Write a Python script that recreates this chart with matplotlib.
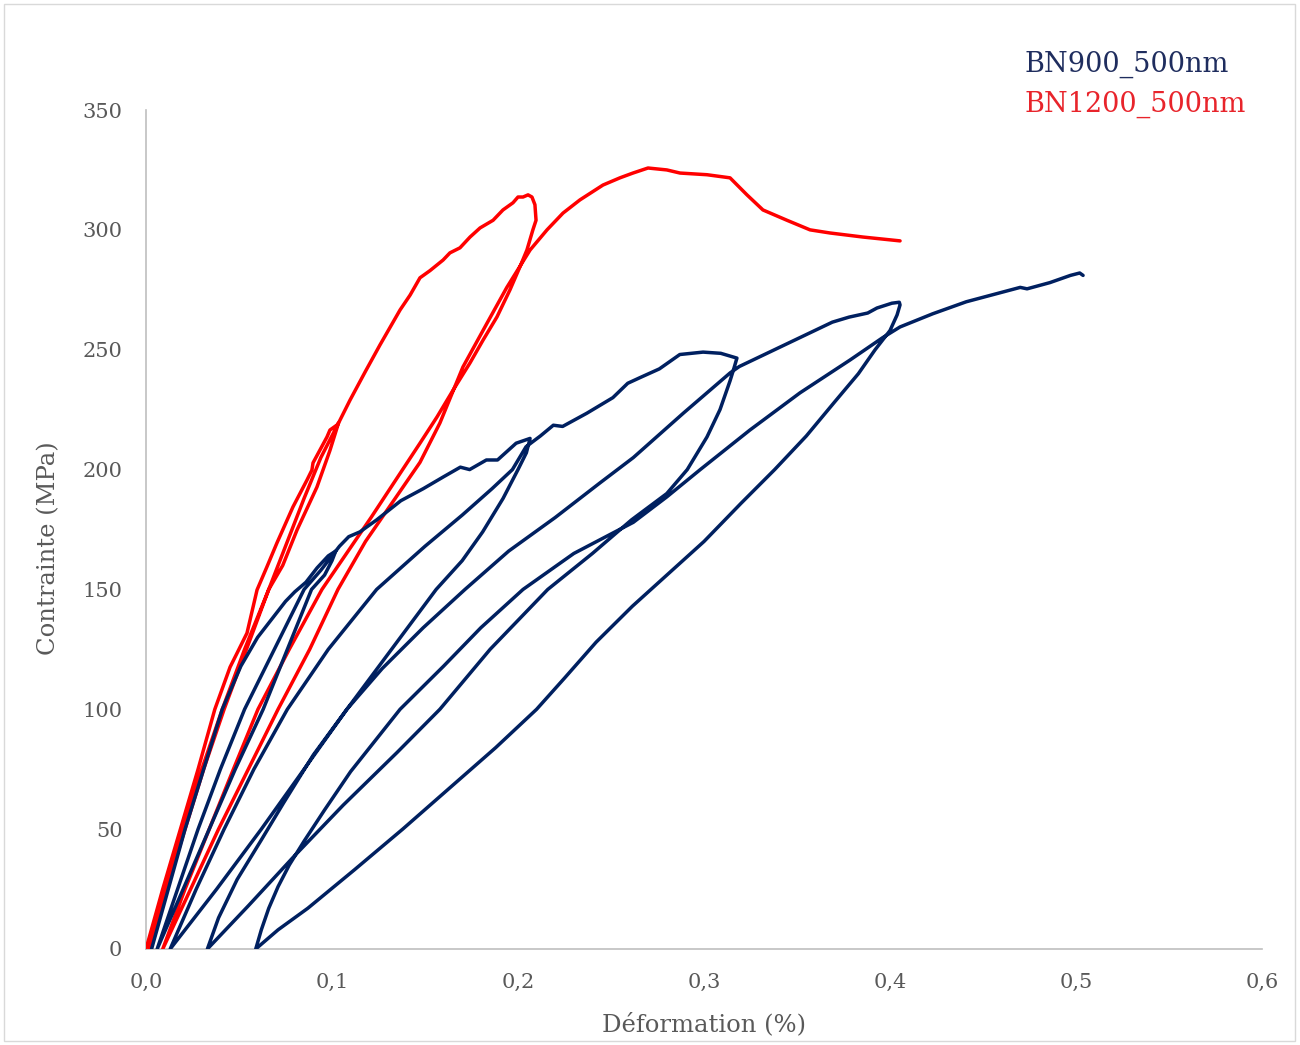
import matplotlib
matplotlib.use("Agg")
import matplotlib.pyplot as plt
import numpy as np
from matplotlib.patches import Rectangle

# ---------------- data (strain %, stress MPa) ----------------
# BN900_500nm : loading / unloading cycles
bn900_load1_x = [0.003, 0.012, 0.021, 0.031, 0.041, 0.051, 0.060, 0.068, 0.075, 0.080, 0.086, 0.092, 0.098, 0.102]
bn900_load1_y = [0, 25, 50, 75, 100, 118, 130, 138, 145, 149, 153, 159, 164, 166]

bn900_unload1_x = [0.102, 0.100, 0.096, 0.089, 0.076, 0.063, 0.048, 0.034, 0.020, 0.006]
bn900_unload1_y = [166, 162, 156, 150, 125, 100, 75, 50, 25, 0]

bn900_reload2_x = [0.006, 0.017, 0.028, 0.040, 0.053, 0.069, 0.085, 0.094, 0.100, 0.104, 0.109, 0.115,
                   0.124, 0.137, 0.149, 0.160, 0.169, 0.174, 0.183, 0.189, 0.199, 0.2065]
bn900_reload2_y = [0, 25, 50, 75, 100, 125, 150, 158, 164, 168, 172, 174,
                   179, 187, 192, 197, 201, 200, 204, 204, 211, 213]

bn900_unload2_x = [0.2065, 0.2045, 0.200, 0.192, 0.181, 0.170, 0.156, 0.132, 0.108, 0.085, 0.062, 0.038, 0.013]
bn900_unload2_y = [213, 207, 200, 188, 174, 162, 150, 125, 100, 75, 50, 25, 0]

bn900_reload3_x = [0.013, 0.027, 0.042, 0.058, 0.076, 0.098, 0.124, 0.150, 0.170, 0.186, 0.197, 0.2043,
                   0.212, 0.219, 0.224, 0.237, 0.251, 0.259, 0.266, 0.276, 0.287, 0.2995, 0.309, 0.3177]
bn900_reload3_y = [0, 25, 50, 75, 100, 125, 150, 168, 181, 192, 200, 209.5,
                   214, 218.5, 218, 223.5, 230, 236, 238.5, 242, 248, 249, 248.5, 246.5]

bn900_unload3_x = [0.3177, 0.316, 0.314, 0.3086, 0.3016, 0.291, 0.280, 0.261, 0.240, 0.216, 0.185,
                   0.158, 0.135, 0.106, 0.080, 0.055, 0.033]
bn900_unload3_y = [246.5, 242, 237, 225, 213.6, 200, 190, 179, 165, 150, 125,
                   100, 82, 60, 39, 18, 0]

bn900_reload4_x = [0.033, 0.039, 0.049, 0.062, 0.074, 0.090, 0.108, 0.127, 0.149, 0.1715, 0.195, 0.220,
                   0.244, 0.262, 0.289, 0.314, 0.319, 0.342, 0.369, 0.378, 0.388, 0.393, 0.401, 0.405]
bn900_reload4_y = [0, 13, 29, 45.5, 61, 81, 100, 117, 134, 150, 166, 180,
                   194.4, 205, 223.6, 240.3, 243, 251.5, 261.5, 263.6, 265.3, 267.4, 269.4, 269.8]

bn900_unload4_x = [0.4054, 0.4038, 0.400, 0.392, 0.383, 0.370, 0.355, 0.338, 0.320, 0.300, 0.280, 0.2615,
                   0.242, 0.225, 0.210, 0.188, 0.163, 0.138, 0.112, 0.087, 0.071, 0.059]
bn900_unload4_y = [268.7, 264.5, 258, 250, 240, 228, 214, 200, 186, 170, 156, 143,
                   128, 113, 100, 84, 67, 50, 33, 17, 8, 0]

bn900_reload5_x = [0.059, 0.062, 0.066, 0.071, 0.077, 0.085, 0.096, 0.110, 0.1366, 0.160, 0.180, 0.2027,
                   0.230, 0.262, 0.280, 0.298, 0.3247, 0.3516, 0.3785, 0.396, 0.4054, 0.423, 0.441,
                   0.459, 0.470, 0.4737, 0.486, 0.497, 0.502, 0.5038]
bn900_reload5_y = [0, 8, 17, 26, 35, 45, 58, 74, 100, 118, 134, 150,
                   165, 178, 188.6, 200, 216.5, 232, 245.7, 255, 259.5, 265, 270,
                   273.7, 276, 275.4, 278, 281, 282, 281]

# BN1200_500nm
bn1200_load_x = [0.000, 0.009, 0.0185, 0.028, 0.037, 0.0452, 0.049, 0.0543, 0.0597, 0.065, 0.0704, 0.079,
                 0.0866, 0.0892, 0.0898, 0.0973, 0.0989, 0.1027]
bn1200_load_y = [0, 25, 50, 75, 100, 117.6, 123.5, 131.8, 149.8, 159.4, 169.4, 184.4,
                 195.7, 199.8, 202.8, 213.6, 216.5, 218.6]

bn1200_unload0_x = [0.1035, 0.0989, 0.0919, 0.0812, 0.0735, 0.066, 0.053, 0.041, 0.030, 0.020, 0.010, 0.002]
bn1200_unload0_y = [219.4, 208, 192.7, 174.8, 160, 150, 125, 100, 75, 50, 25, 0]

bn1200_reload0_x = [0.002, 0.011, 0.021, 0.031, 0.042, 0.054, 0.066, 0.076, 0.085, 0.094, 0.1035]
bn1200_reload0_y = [0, 25, 50, 75, 100, 125, 150, 170, 188, 205, 219.4]

bn1200_env_x = [0.1035, 0.1097, 0.118, 0.1258, 0.1366, 0.142, 0.1473, 0.1527, 0.1597, 0.1634, 0.1688,
                0.1742, 0.1796, 0.1866, 0.1919, 0.1973, 0.200, 0.2027, 0.2054, 0.2075, 0.2091, 0.2097, 0.208]
bn1200_env_y = [219.4, 229, 241, 252, 266.6, 272.8, 280, 283, 287.4, 290.4, 292.5,
                297, 300.8, 304, 308.3, 311.3, 313.7, 313.7, 314.6, 313.7, 310.5, 304, 300]

bn1200_unload1_x = [0.208, 0.2048, 0.201, 0.1957, 0.1887, 0.1812, 0.1742, 0.165, 0.1565, 0.1473, 0.121,
                    0.0946, 0.077, 0.0602, 0.047, 0.034, 0.021, 0.009]
bn1200_unload1_y = [300, 291.6, 284.5, 275, 263.7, 254, 244.5, 233, 222, 211, 180,
                    150, 125, 100, 75, 50, 25, 0]

bn1200_reload1_x = [0.009, 0.024, 0.039, 0.055, 0.071, 0.088, 0.1032, 0.118, 0.134, 0.1473, 0.158, 0.1704,
                    0.1833, 0.194, 0.2065, 0.2156, 0.2242, 0.2333, 0.2457, 0.2548, 0.2618, 0.2699, 0.280,
                    0.2871, 0.3016, 0.314, 0.3231, 0.3317, 0.3446, 0.357, 0.3677, 0.3855, 0.4054]
bn1200_reload1_y = [0, 25, 50, 75, 100, 125, 150, 170, 188, 203, 219.4, 242.8,
                    261, 276, 291.6, 300, 307, 312.5, 318.7, 321.7, 323.7, 325.8, 325,
                    323.7, 323, 321.7, 314.6, 308.3, 304, 300, 298.7, 297, 295.4]

x_ticks = [0.0, 0.1, 0.2, 0.3, 0.4, 0.5, 0.6]
x_tick_labels = ["0,0", "0,1", "0,2", "0,3", "0,4", "0,5", "0,6"]
y_ticks = [0, 50, 100, 150, 200, 250, 300, 350]
y_tick_labels = ["0", "50", "100", "150", "200", "250", "300", "350"]

series_names = ["BN900_500nm", "BN1200_500nm"]
x_label = "Déformation (%)"
y_label = "Contrainte (MPa)"

# ---------------- figure ----------------
W, H = 1300, 1045
fig = plt.figure(figsize=(W / 100, H / 100), dpi=100)
fig.patch.set_facecolor("white")
fig.patches.append(Rectangle((4 / W, 4 / H), 1291 / W, 1037 / H, transform=fig.transFigure,
                             fill=False, edgecolor="#D9D9D9", linewidth=1.0))

ax = fig.add_axes([146 / W, 1 - 949 / H, 1116 / W, 839 / H])

BLUE = "#002060"
RED = "#FF0000"
lw = 2.5

red_x = np.concatenate([bn1200_load_x, bn1200_unload0_x, bn1200_reload0_x, bn1200_env_x,
                        bn1200_unload1_x, bn1200_reload1_x])
red_y = np.concatenate([bn1200_load_y, bn1200_unload0_y, bn1200_reload0_y, bn1200_env_y,
                        bn1200_unload1_y, bn1200_reload1_y])
blue_x = np.concatenate([bn900_load1_x, bn900_unload1_x, bn900_reload2_x, bn900_unload2_x,
                         bn900_reload3_x, bn900_unload3_x, bn900_reload4_x, bn900_unload4_x,
                         bn900_reload5_x])
blue_y = np.concatenate([bn900_load1_y, bn900_unload1_y, bn900_reload2_y, bn900_unload2_y,
                         bn900_reload3_y, bn900_unload3_y, bn900_reload4_y, bn900_unload4_y,
                         bn900_reload5_y])

ax.plot(red_x, red_y, color=RED, lw=lw, solid_joinstyle="round", solid_capstyle="round",
        label=series_names[1], zorder=2)
ax.plot(blue_x, blue_y, color=BLUE, lw=lw, solid_joinstyle="round", solid_capstyle="round",
        label=series_names[0], zorder=3)

ax.set_xlim(0, 0.6)
ax.set_ylim(0, 350)
for s in ["top", "right"]:
    ax.spines[s].set_visible(False)
for s in ["left", "bottom"]:
    ax.spines[s].set_color("#BFBFBF")
    ax.spines[s].set_linewidth(1.2)
    ax.spines[s].set_zorder(1)

font = "DejaVu Serif"
ax.set_xticks(x_ticks)
ax.set_xticklabels(x_tick_labels, family=font, fontsize=15, color="#595959")
ax.set_yticks(y_ticks)
ax.set_yticklabels(y_tick_labels, family=font, fontsize=15, color="#595959")
ax.tick_params(axis="both", length=0)
ax.tick_params(axis="x", pad=17)
ax.tick_params(axis="y", pad=17)

ax.set_xlabel(x_label, family=font, fontsize=17.5, color="#595959")
ax.set_ylabel(y_label, family=font, fontsize=17.5, color="#595959")
ax.xaxis.set_label_coords(0.5, -0.075)
ax.yaxis.set_label_coords(-0.077, 0.478)

fig.text(1024 / W, 1 - 64 / H, series_names[0], color="#1F2D5E", fontsize=19.5, family=font,
         ha="left", va="center")
fig.text(1024 / W, 1 - 104 / H, series_names[1], color="#E8242B", fontsize=19.5, family=font,
         ha="left", va="center")

fig.savefig("out.png", dpi=100, facecolor="white")
